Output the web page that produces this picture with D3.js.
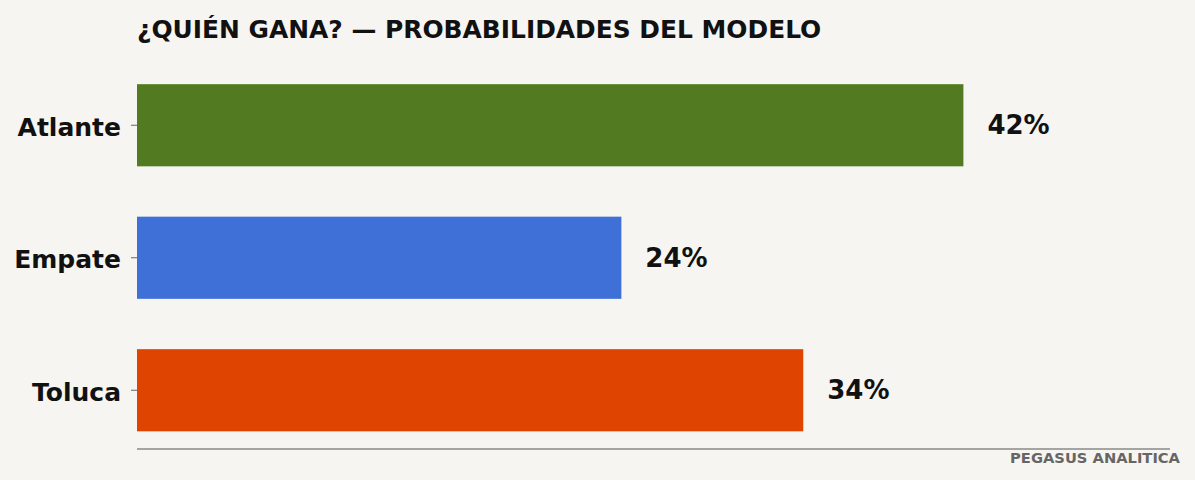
<!DOCTYPE html><html><head><meta charset="utf-8">
<script src="https://cdn.jsdelivr.net/npm/d3@7"></script>
<style>body{margin:0;background:#f6f5f1}text{font-family:"DejaVu Sans",sans-serif;font-weight:bold}</style>
</head><body><svg id="c" width="1195" height="480"></svg><script>
const categories=["Atlante","Empate","Toluca"];
const values=[41.8,24.5,33.7];
const labels=["42%","24%","34%"];
const colors=["#527a20","#3e70d8","#df4400"];
const svg=d3.select("#c");
svg.append("rect").attr("width",1195).attr("height",480).attr("fill","#f6f5f1");
const x=d3.scaleLinear().domain([0,d3.max(values)*1.25]).range([137,1170]);
const y=d3.scaleBand().domain(categories).range([59,456.5]).paddingInner(0.38).paddingOuter(0.19);
svg.selectAll(".bar").data(categories).join("rect").attr("x",x(0)).attr("y",d=>y(d))
 .attr("width",(d,i)=>x(values[i])-x(0)).attr("height",y.bandwidth()).attr("fill",(d,i)=>colors[i]);
svg.selectAll(".val").data(categories).join("text").attr("x",(d,i)=>x(values[i])+24)
 .attr("y",d=>y(d)+y.bandwidth()/2).attr("dy","0.35em").attr("font-size",26).attr("fill","#111").text((d,i)=>labels[i]);
const ax=svg.append("g").attr("transform","translate(137,0)").call(d3.axisLeft(y).tickSize(6).tickPadding(10));
ax.select(".domain").remove();
ax.selectAll("line").attr("stroke","#666");
ax.selectAll("text").attr("font-size",25).attr("dy","0.42em").attr("fill","#111").style("font-family","DejaVu Sans").style("font-weight","bold");
svg.append("line").attr("x1",137).attr("x2",1170).attr("y1",449).attr("y2",449).attr("stroke","#888").attr("stroke-width",1.5);
svg.append("text").attr("x",137).attr("y",38).attr("font-size",24.9).attr("fill","#111").text("¿QUIÉN GANA? — PROBABILIDADES DEL MODELO");
svg.append("text").attr("x",1180).attr("y",463).attr("text-anchor","end").attr("font-size",14.7).attr("fill","#666").text("PEGASUS ANALITICA");
</script></body></html>
